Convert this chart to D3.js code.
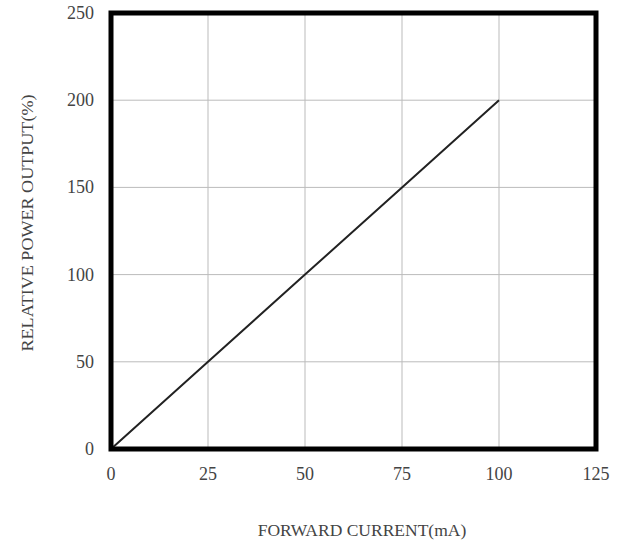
<!DOCTYPE html>
<html><head><meta charset="utf-8">
<script src="https://cdn.jsdelivr.net/npm/d3@7"></script>
<style>body{margin:0;background:#fff;} svg{display:block;}</style>
</head><body>
<script>
const current = [0, 25, 50, 75, 100];
const output = [0, 50, 100, 150, 200];
const xTicks = [0, 25, 50, 75, 100, 125];
const yTicks = [0, 50, 100, 150, 200, 250];

const W = 627, H = 545;
const L = 111, R = 596, T = 13, B = 449;
const svg = d3.select("body").append("svg").attr("width", W).attr("height", H);
const x = d3.scaleLinear().domain([0, 125]).range([L, R]);
const y = d3.scaleLinear().domain([0, 250]).range([B, T]);
const font = "'Liberation Serif','Times New Roman',serif";

// grid
svg.append("g").selectAll("line").data(xTicks.slice(1, -1)).join("line")
  .attr("x1", d => x(d)).attr("x2", d => x(d)).attr("y1", T).attr("y2", B)
  .attr("stroke", "#bbb").attr("stroke-width", 1);
svg.append("g").selectAll("line").data(yTicks.slice(1, -1)).join("line")
  .attr("y1", d => y(d)).attr("y2", d => y(d)).attr("x1", L).attr("x2", R)
  .attr("stroke", "#bbb").attr("stroke-width", 1);

// data line
svg.append("path").datum(current.map((c, i) => [c, output[i]]))
  .attr("d", d3.line().x(d => x(d[0])).y(d => y(d[1])))
  .attr("fill", "none").attr("stroke", "#222").attr("stroke-width", 2);

// frame
svg.append("rect").attr("x", L).attr("y", T).attr("width", R - L).attr("height", B - T)
  .attr("fill", "none").attr("stroke", "#000").attr("stroke-width", 5);

// tick labels
svg.append("g").selectAll("text").data(xTicks).join("text")
  .attr("x", d => x(d)).attr("y", 480).attr("text-anchor", "middle")
  .attr("font-family", font).attr("font-size", 18).attr("fill", "#444").text(d => d);
svg.append("g").selectAll("text").data(yTicks).join("text")
  .attr("x", 94).attr("y", d => y(d) + 6).attr("text-anchor", "end")
  .attr("font-family", font).attr("font-size", 18).attr("fill", "#444").text(d => d);

// titles
svg.append("text").attr("x", 362).attr("y", 536).attr("text-anchor", "middle")
  .attr("font-family", font).attr("font-size", 17.5).attr("fill", "#444")
  .text("FORWARD CURRENT(mA)");
svg.append("text").attr("transform", "translate(33,223) rotate(-90)").attr("text-anchor", "middle")
  .attr("font-family", font).attr("font-size", 17.5).attr("fill", "#444")
  .attr("textLength", 257).attr("lengthAdjust", "spacingAndGlyphs")
  .text("RELATIVE POWER OUTPUT(%)");
</script>
</body></html>
